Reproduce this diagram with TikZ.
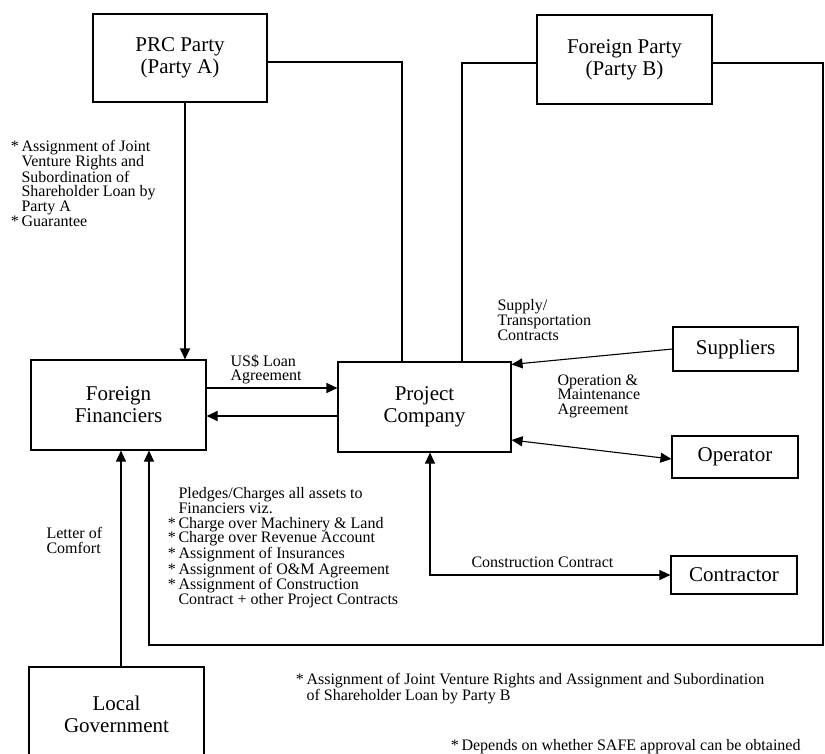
\documentclass[tikz,border=0pt]{standalone}
\usepackage{fontspec}
\setmainfont{Liberation Serif}
\usepackage{tikz}
\usetikzlibrary{arrows.meta}

\newcommand{\boxfont}{\fontsize{21}{22}\selectfont}
\newcommand{\notefont}{\fontsize{16}{14.7}\selectfont}

\begin{document}
\begin{tikzpicture}[x=1pt, y=-1pt, line width=1.1pt, >={Triangle[length=11pt,width=10pt]},
    party/.style={draw, align=center, font=\boxfont, inner sep=0pt},
    note/.style={align=left, font=\notefont, inner sep=0pt, anchor=north west}]
    \useasboundingbox (0,0) rectangle (825,753);

    % Parties at the top
    \node[party, minimum width=174pt, minimum height=88pt] (prc) at (180,58) {PRC Party\\(Party A)};
    \node[party, minimum width=175pt, minimum height=89pt] (fparty) at (624.5,59.5) {Foreign Party\\(Party B)};

    % Middle row
    \node[party, minimum width=175pt, minimum height=90pt] (ff) at (118.5,405) {Foreign\\Financiers};
    \node[party, minimum width=173pt, minimum height=90pt] (pc) at (424.5,407) {Project\\Company};

    % Boxes on the right
    \node[party, minimum width=125pt, minimum height=44pt] (sup) at (735.5,349) {Suppliers};
    \node[party, minimum width=126pt, minimum height=42pt] (op) at (735,457) {Operator};
    \node[party, minimum width=126pt, minimum height=38pt] (con) at (734,575) {Contractor};

    % Local government (cut off at the bottom)
    \node[party, minimum width=175pt, minimum height=94pt] (lg) at (116.5,714) {Local\\Government};

    % Lines from Party A
    \draw[->] ([xshift=5pt]prc.south) -- ([xshift=5pt]prc.south |- ff.north);
    \draw ([yshift=-4pt]prc.east) -| ([xshift=-22.5pt]pc.north);

    % Lines from Party B
    \coordinate (bcorner) at (823,645);
    \draw ([yshift=-3.5pt]fparty.west) -| ([xshift=37.5pt]pc.north);
    \draw[->] ([yshift=-3.5pt]fparty.east) -| (bcorner) -| ([xshift=30.5pt]ff.south);

    % Loan agreement between financiers and project company
    \draw[->] ([yshift=17pt]ff.east) -- ([yshift=17pt]ff.east -| pc.west);
    \draw[->] ([yshift=-11pt]ff.east -| pc.west) -- ([yshift=-11pt]ff.east);

    % Contracts of the project company
    \draw[->] (sup.west) -- ([yshift=-3pt]pc.north east);
    \draw[<->] ([yshift=-33pt]pc.east) -- ([yshift=-2pt]op.west);
    \draw[<->] ([xshift=5.5pt]pc.south) |- (con.west);

    % Letter of comfort
    \draw[->] ([xshift=4.5pt]lg.north) -- ([xshift=4.5pt]lg.north |- ff.south);

    % Labels
    \node[note] (lblA) at (21,140) {\llap{*\,}Assignment of Joint\\Venture Rights and\\Subordination of\\Shareholder Loan by\\Party A\\\llap{*\,}Guarantee};
    \node[note] (lblloan) at (230,354) {US\$ Loan\\Agreement};
    \node[note] (lblsup) at (497,299) {Supply/\\Transportation\\Contracts};
    \node[note] (lblop) at (557,374) {Operation \&\\Maintenance\\Agreement};
    \node[note] (lblcon) at (471,556) {Construction Contract};
    \node[note] (lblloc) at (46,527) {Letter of\\Comfort};
    \node[note] (lblpledge) at (178,487) {Pledges/Charges all assets to\\Financiers viz.\\\llap{*\,}Charge over Machinery \& Land\\\llap{*\,}Charge over Revenue Account\\\llap{*\,}Assignment of Insurances\\\llap{*\,}Assignment of O\&M Agreement\\\llap{*\,}Assignment of Construction\\Contract + other Project Contracts};
    \node[note, font=\fontsize{16}{13}\selectfont] (lblB) at (306,673) {\llap{*\,}Assignment of Joint Venture Rights and Assignment and Subordination\\of Shareholder Loan by Party B};
    \node[note] (lblsafe) at (461,739) {\llap{*\,}Depends on whether SAFE approval can be obtained};
\end{tikzpicture}
\end{document}
